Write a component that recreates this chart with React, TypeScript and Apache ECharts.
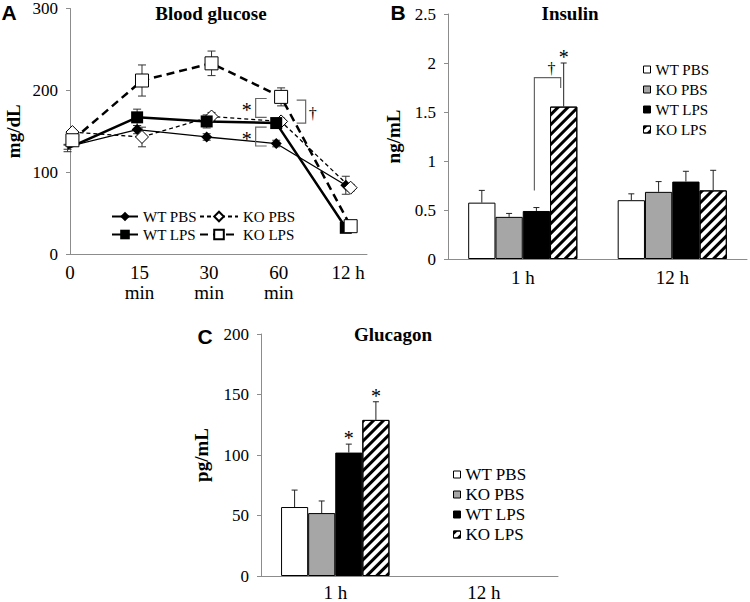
import { useEffect, useRef } from 'react';
import * as echarts from 'echarts';

// ---------- Panel A: blood glucose (mg/dL) ----------
const timeLabels = ['0', '15\nmin', '30\nmin', '60\nmin', '12 h'];
const wtPbsGlucose = [131, 152, 143, 135, 84];
const wtPbsGlucoseErr = [3, 5, 4, 4, 11];
const wtLpsGlucose = [129, 167, 162, 160, 32];
const wtLpsGlucoseErr = [4, 10, 8, 4, 3];
const koPbsGlucose = [149, 143, 168, 162, 81];
const koPbsGlucoseErr = [3, 12, 5, 4, 4];
const koLpsGlucose = [139, 212, 233, 192, 34];
const koLpsGlucoseErr = [4, 19, 15, 11, 3];
// significance brackets at 60 min: [time index, upper value, lower value, side (-1 left / 1 right)]
const glucoseBrackets = [
  [3, 190, 167, -1],
  [3, 155, 132, -1],
  [3, 188, 160, 1],
];
const glucoseBracketMarks = ['*', '*', '†'];

// ---------- Panel B: insulin (ng/mL) ----------
const hourLabels = ['1 h', '12 h'];
const groupNames = ['WT PBS', 'KO PBS', 'WT LPS', 'KO LPS'];
const insulinWtPbs = [0.575, 0.6];
const insulinKoPbs = [0.43, 0.685];
const insulinWtLps = [0.49, 0.79];
const insulinKoLps = [1.555, 0.7];
const insulinWtPbsErr = [0.125, 0.065];
const insulinKoPbsErr = [0.035, 0.105];
const insulinWtLpsErr = [0.035, 0.105];
const insulinKoLpsErr = [0.445, 0.205];
const insulinKoLpsMarks = ['*', ''];
// bracket WT LPS vs KO LPS at 1 h: [category, WT LPS end, top, KO LPS end]
const insulinBracket = [[0, 0.7, 1.85, 1.745]];
const insulinBracketMarks = ['†'];

// ---------- Panel C: glucagon (pg/mL) ----------
const glucagonWtPbs = [57, null];
const glucagonKoPbs = [52, null];
const glucagonWtLps = [102, null];
const glucagonKoLps = [129, null];
const glucagonWtPbsErr = [14, 0];
const glucagonKoPbsErr = [10, 0];
const glucagonWtLpsErr = [7, 0];
const glucagonKoLpsErr = [15, 0];
const glucagonWtLpsMarks = ['*', ''];
const glucagonKoLpsMarks = ['*', ''];

const SERIF = 'Liberation Serif';
const SANS = 'Liberation Sans';
const AXIS_GRAY = '#8c8c8c';
const BAR_CAT_GAP = 0.27;
const DODGE = 0.035;

const hatch = {
  symbol: 'rect',
  symbolSize: 1,
  dashArrayX: [1, 0],
  dashArrayY: [3, 4],
  rotation: -Math.PI / 4,
  color: '#000',
  backgroundColor: '#fff',
};

const barFills = [
  { color: '#ffffff' },
  { color: '#a6a6a6' },
  { color: '#000000' },
  { color: '#ffffff', decal: hatch },
];

function yAxisBase(gridIndex: number, min: number, max: number, interval: number, name: string, nameGap: number) {
  return {
    type: 'value',
    gridIndex,
    min,
    max,
    interval,
    name,
    nameLocation: 'middle',
    nameGap,
    nameTextStyle: { fontFamily: SERIF, fontWeight: 'bold', fontSize: 19, color: '#000' },
    axisLine: { show: true, lineStyle: { color: AXIS_GRAY, width: 1 } },
    axisTick: { show: true, length: 4, lineStyle: { color: AXIS_GRAY } },
    splitLine: { show: false },
    axisLabel: { fontFamily: SERIF, fontSize: 17, color: '#000', margin: 12 },
  };
}

function lineErrSeries(values: number[], errs: number[], dodge: number) {
  return {
    type: 'custom',
    xAxisIndex: 0,
    yAxisIndex: 0,
    z: 3,
    silent: true,
    data: values.map((v, i) => [i + dodge, v - errs[i], v + errs[i]]),
    encode: { x: 0, y: [1, 2] },
    renderItem: (_p: any, api: any) => {
      const lo = api.coord([api.value(0), api.value(1)]);
      const hi = api.coord([api.value(0), api.value(2)]);
      const c = 4;
      const st = { stroke: '#333', lineWidth: 1 };
      return {
        type: 'group',
        children: [
          { type: 'line', shape: { x1: lo[0], y1: lo[1], x2: hi[0], y2: hi[1] }, style: st },
          { type: 'line', shape: { x1: lo[0] - c, y1: lo[1], x2: lo[0] + c, y2: lo[1] }, style: st },
          { type: 'line', shape: { x1: hi[0] - c, y1: hi[1], x2: hi[0] + c, y2: hi[1] }, style: st },
        ],
      };
    },
  };
}

function barErrSeries(gridAxis: number, group: number, means: (number | null)[], errs: number[], marks?: string[]) {
  return {
    type: 'custom',
    xAxisIndex: gridAxis,
    yAxisIndex: gridAxis,
    z: 5,
    silent: true,
    data: means.map((m, i) => [i, m == null ? 0 : m + errs[i]]),
    renderItem: (params: any, api: any) => {
      const i = params.dataIndex;
      const m = means[i];
      if (m == null) return null;
      const base = api.coord([i, m]);
      const top = api.coord([i, m + errs[i]]);
      const bandW = api.size([1, 0])[0];
      const barW = (bandW * (1 - BAR_CAT_GAP)) / 4;
      const x = base[0] + (group - 1.5) * barW;
      const st = { stroke: '#222', lineWidth: 1 };
      const children: any[] = [
        { type: 'line', shape: { x1: x, y1: base[1], x2: x, y2: top[1] }, style: st },
        { type: 'line', shape: { x1: x - 3, y1: top[1], x2: x + 3, y2: top[1] }, style: st },
      ];
      const mk = marks ? marks[i] : '';
      if (mk) {
        children.push({
          type: 'text',
          x: x,
          y: top[1] - 6,
          style: {
            text: mk,
            fontFamily: SERIF,
            fontSize: 20,
            fill: '#000',
            align: 'center',
            verticalAlign: 'middle',
          },
        });
      }
      return { type: 'group', children };
    },
  };
}

function barSeries(gridAxis: number, group: number, data: (number | null)[]) {
  return {
    type: 'bar',
    name: groupNames[group],
    xAxisIndex: gridAxis,
    yAxisIndex: gridAxis,
    data,
    barGap: '0%',
    barCategoryGap: `${BAR_CAT_GAP * 100}%`,
    itemStyle: { ...barFills[group], borderColor: '#000', borderWidth: 1 },
    z: 2,
  };
}

function textEl(text: string, x: number, y: number, size: number, family: string) {
  return {
    type: 'text',
    x,
    y,
    style: {
      text,
      fontFamily: family,
      fontSize: size,
      fontWeight: 'bold',
      fill: '#000',
      align: 'center',
      verticalAlign: 'middle',
    },
  };
}

function legendText(fontSize: number) {
  return {
    fontFamily: SERIF,
    fontSize,
    color: '#000',
    rich: { s: { fontFamily: SERIF, fontSize, color: '#000' } },
  };
}

function barLegend(left: number, top: number, fontSize: number, itemGap: number) {
  const ts = legendText(fontSize);
  return {
    orient: 'vertical',
    left,
    top,
    icon: 'rect',
    itemWidth: 7,
    itemHeight: 7,
    itemGap,
    textStyle: ts,
    formatter: '{s|{name}}',
    data: groupNames.map((n, k) => ({
      name: n,
      icon: 'rect',
      itemStyle: { ...barFills[k], borderColor: '#000', borderWidth: 1 },
    })),
  };
}

function buildOption() {
  const lineCommon = { type: 'line', xAxisIndex: 0, yAxisIndex: 0, z: 4 };
  const xy = (vals: number[], d: number) => vals.map((v, i) => [i + d, v]);
  const lineLegendText = legendText(15);

  return {
    animation: false,
    backgroundColor: '#fff',
    color: ['#000000'],
    textStyle: { fontFamily: SERIF, color: '#000' },
    grid: [
      { left: 70, top: 8, width: 297, height: 246 },
      { left: 448, top: 14, width: 299, height: 245 },
      { left: 261, top: 334, width: 297, height: 243 },
    ],
    xAxis: [
      {
        type: 'value',
        gridIndex: 0,
        min: 0,
        max: 4.27,
        interval: 1,
        axisLine: { show: true, onZero: false, lineStyle: { color: AXIS_GRAY } },
        axisTick: { show: false },
        splitLine: { show: false },
        axisLabel: {
          fontFamily: SERIF,
          fontSize: 19,
          lineHeight: 20,
          color: '#000',
          margin: 8,
          showMaxLabel: false,
          formatter: (v: number) => (Number.isInteger(v) && timeLabels[v] !== undefined ? timeLabels[v] : ''),
        },
      },
      {
        type: 'category',
        gridIndex: 1,
        data: hourLabels,
        axisLine: { show: true, lineStyle: { color: AXIS_GRAY } },
        axisTick: { show: false },
        axisLabel: { fontFamily: SERIF, fontSize: 19, color: '#000', margin: 9 },
      },
      {
        type: 'category',
        gridIndex: 2,
        data: hourLabels,
        axisLine: { show: true, lineStyle: { color: AXIS_GRAY } },
        axisTick: { show: false },
        axisLabel: { fontFamily: SERIF, fontSize: 19, color: '#000', margin: 7 },
      },
    ],
    yAxis: [
      yAxisBase(0, 0, 300, 100, 'mg/dL', 47),
      yAxisBase(1, 0, 2.5, 0.5, 'ng/mL', 45),
      yAxisBase(2, 0, 200, 50, 'pg/mL', 50),
    ],
    legend: [
      {
        orient: 'vertical',
        left: 106,
        top: 204,
        itemWidth: 26,
        itemHeight: 12,
        itemGap: 3,
        textStyle: lineLegendText,
        formatter: '{s|{name}}',
        data: ['WT PBS', 'WT LPS'],
      },
      {
        orient: 'vertical',
        left: 194,
        top: 204,
        itemWidth: 38,
        itemHeight: 12,
        itemGap: 3,
        textStyle: lineLegendText,
        formatter: '{s|{name}}',
        data: ['KO PBS', 'KO LPS'],
      },
      barLegend(638, 57, 15, 5),
      barLegend(448, 461, 17, 3),
    ],
    graphic: [
      textEl('A', 9, 12, 21, SANS),
      textEl('B', 398, 12, 21, SANS),
      textEl('C', 205, 336, 21, SANS),
      textEl('Blood glucose', 211, 13, 19, SERIF),
      textEl('Insulin', 570, 13, 19, SERIF),
      textEl('Glucagon', 393, 334, 19, SERIF),
    ],
    series: [
      // ----- Panel A -----
      lineErrSeries(wtPbsGlucose, wtPbsGlucoseErr, -DODGE),
      lineErrSeries(wtLpsGlucose, wtLpsGlucoseErr, -DODGE),
      lineErrSeries(koPbsGlucose, koPbsGlucoseErr, DODGE),
      lineErrSeries(koLpsGlucose, koLpsGlucoseErr, DODGE),
      {
        ...lineCommon,
        name: 'WT PBS',
        data: xy(wtPbsGlucose, -DODGE),
        symbol: 'diamond',
        symbolSize: 11,
        lineStyle: { color: '#000', width: 1.3 },
        itemStyle: { color: '#000' },
      },
      {
        ...lineCommon,
        name: 'KO PBS',
        data: xy(koPbsGlucose, DODGE),
        symbol: 'diamond',
        symbolSize: 13,
        lineStyle: { color: '#000', width: 1.3, type: [4, 3] },
        itemStyle: { color: '#fff', borderColor: '#000', borderWidth: 1 },
      },
      {
        ...lineCommon,
        name: 'WT LPS',
        data: xy(wtLpsGlucose, -DODGE),
        symbol: 'rect',
        symbolSize: 12,
        lineStyle: { color: '#000', width: 2.5 },
        itemStyle: { color: '#000' },
      },
      {
        ...lineCommon,
        name: 'KO LPS',
        data: xy(koLpsGlucose, DODGE),
        symbol: 'rect',
        symbolSize: 13,
        lineStyle: { color: '#000', width: 2.5, type: [8, 5] },
        itemStyle: { color: '#fff', borderColor: '#000', borderWidth: 1 },
        z: 5,
      },
      {
        type: 'custom',
        xAxisIndex: 0,
        yAxisIndex: 0,
        z: 6,
        silent: true,
        data: glucoseBrackets,
        renderItem: (params: any, api: any) => {
          const side = api.value(3);
          const p1 = api.coord([api.value(0), api.value(1)]);
          const p2 = api.coord([api.value(0), api.value(2)]);
          const xv = p1[0] + side * (side < 0 ? 23 : 27);
          const arm = side < 0 ? 11 : 9;
          return {
            type: 'group',
            children: [
              {
                type: 'polyline',
                shape: {
                  points: [
                    [xv - side * arm, p1[1]],
                    [xv, p1[1]],
                    [xv, p2[1]],
                    [xv - side * arm, p2[1]],
                  ],
                },
                style: { stroke: '#666', fill: null, lineWidth: 1.2 },
              },
              {
                type: 'text',
                x: xv + side * (side < 0 ? 9 : 7),
                y: (p1[1] + p2[1]) / 2 + 2,
                style: {
                  text: glucoseBracketMarks[params.dataIndex],
                  fontFamily: SERIF,
                  fontSize: side < 0 ? 20 : 16,
                  fill: '#000',
                  align: 'center',
                  verticalAlign: 'middle',
                },
              },
            ],
          };
        },
      },
      // ----- Panel B -----
      barSeries(1, 0, insulinWtPbs),
      barSeries(1, 1, insulinKoPbs),
      barSeries(1, 2, insulinWtLps),
      barSeries(1, 3, insulinKoLps),
      barErrSeries(1, 0, insulinWtPbs, insulinWtPbsErr),
      barErrSeries(1, 1, insulinKoPbs, insulinKoPbsErr),
      barErrSeries(1, 2, insulinWtLps, insulinWtLpsErr),
      barErrSeries(1, 3, insulinKoLps, insulinKoLpsErr, insulinKoLpsMarks),
      {
        type: 'custom',
        xAxisIndex: 1,
        yAxisIndex: 1,
        z: 6,
        silent: true,
        data: insulinBracket,
        renderItem: (params: any, api: any) => {
          const cat = api.value(0);
          const c = api.coord([cat, api.value(1)]);
          const top = api.coord([cat, api.value(2)]);
          const end = api.coord([cat, api.value(3)]);
          const bandW = api.size([1, 0])[0];
          const barW = (bandW * (1 - BAR_CAT_GAP)) / 4;
          const xl = c[0] + 0.5 * barW - 2;
          const xr = c[0] + 1.5 * barW - 3;
          return {
            type: 'group',
            children: [
              {
                type: 'polyline',
                shape: { points: [[xl, c[1]], [xl, top[1]], [xr, top[1]], [xr, end[1]]] },
                style: { stroke: '#666', fill: null, lineWidth: 1.2 },
              },
              {
                type: 'text',
                x: (xl + xr) / 2 + 4,
                y: top[1] - 9,
                style: {
                  text: insulinBracketMarks[params.dataIndex],
                  fontFamily: SERIF,
                  fontSize: 16,
                  fill: '#000',
                  align: 'center',
                  verticalAlign: 'middle',
                },
              },
            ],
          };
        },
      },
      // ----- Panel C -----
      barSeries(2, 0, glucagonWtPbs),
      barSeries(2, 1, glucagonKoPbs),
      barSeries(2, 2, glucagonWtLps),
      barSeries(2, 3, glucagonKoLps),
      barErrSeries(2, 0, glucagonWtPbs, glucagonWtPbsErr),
      barErrSeries(2, 1, glucagonKoPbs, glucagonKoPbsErr),
      barErrSeries(2, 2, glucagonWtLps, glucagonWtLpsErr, glucagonWtLpsMarks),
      barErrSeries(2, 3, glucagonKoLps, glucagonKoLpsErr, glucagonKoLpsMarks),
    ],
  };
}

export default function App() {
  const ref = useRef<HTMLDivElement>(null);
  useEffect(() => {
    document.body.style.margin = '0';
    if (!ref.current) return;
    const chart = echarts.init(ref.current, undefined, { renderer: 'svg' });
    chart.setOption(buildOption() as any);
    return () => chart.dispose();
  }, []);
  return <div ref={ref} style={{ width: 750, height: 602 }} />;
}
